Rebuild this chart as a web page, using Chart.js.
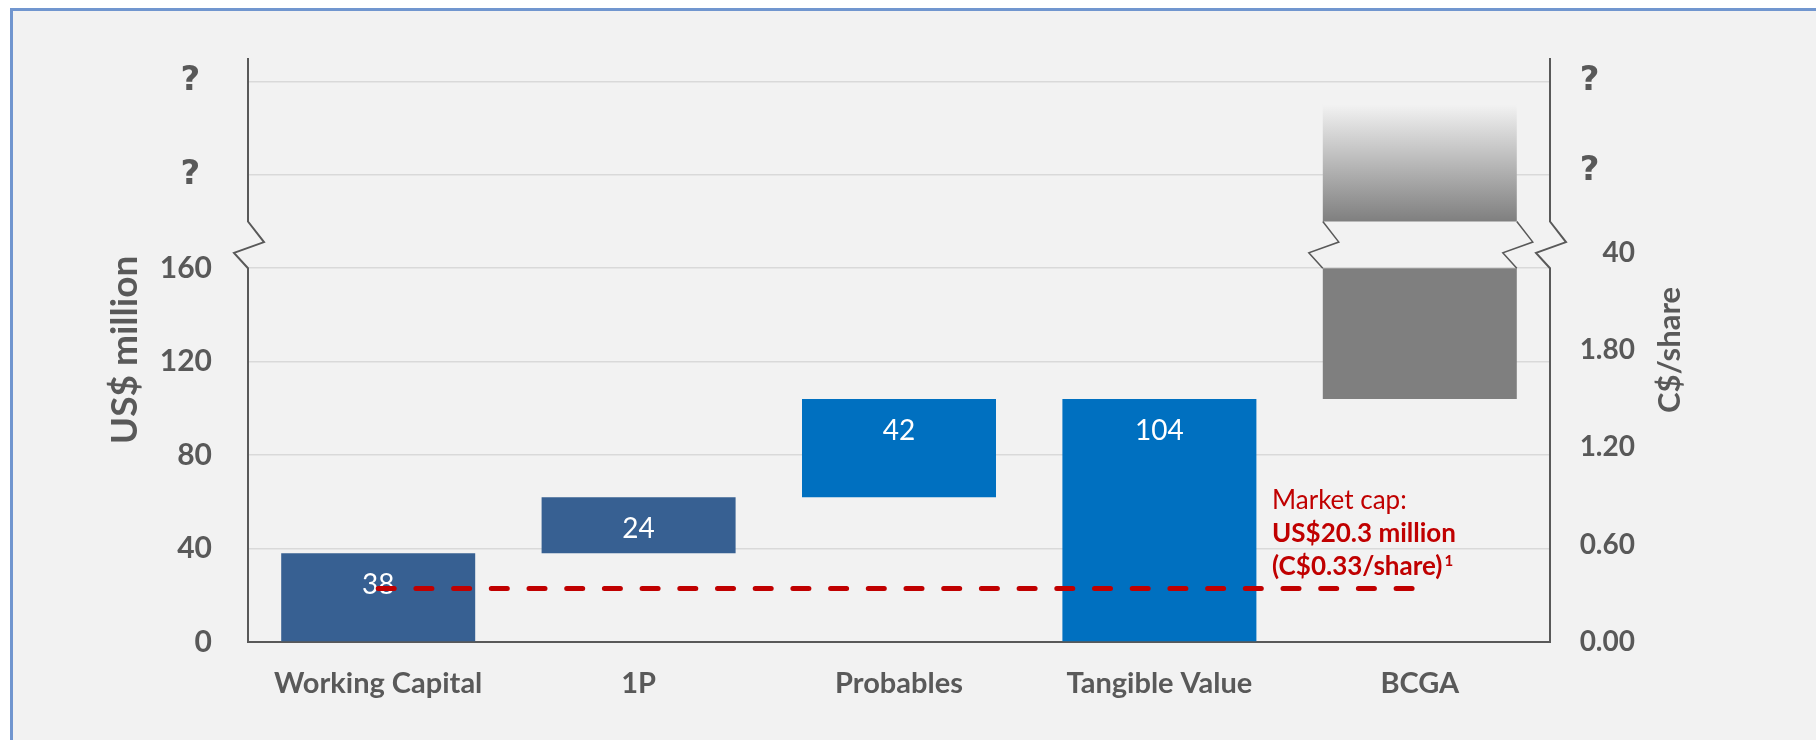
<!DOCTYPE html>
<html>
<head>
<meta charset="utf-8">
<title>Value build-up</title>
<script src="https://cdn.jsdelivr.net/npm/chart.js@4.4.1/dist/chart.umd.min.js"></script>
<style>
    html, body { margin: 0; padding: 0; width: 1816px; height: 740px; overflow: hidden; background: #ffffff; }
    #frame {
        position: absolute; left: 10px; top: 8px; width: 1840px; height: 770px;
        background: #f2f2f2; border-left: 3px solid #7196cf; border-top: 3px solid #7196cf;
    }
    #chart { position: absolute; left: 0; top: 0; }
</style>
</head>
<body>
<div id="frame"></div>
<canvas id="chart" width="1816" height="740"></canvas>
<script>
// === データ ===
const categories = ['Working Capital', '1P', 'Probables', 'Tangible Value', 'BCGA'];
const barLow  = [0, 38, 62, 0, 104];     // US$ million
const barHigh = [38, 62, 104, 104, 160];
const showValue = [true, true, true, true, false];
const bcgaUpper = [180, 230];            // 軸の切れ目より上のBCGA部分
const marketCapShare = [0.33, 0.33, 0.33, 0.33, 0.33]; // C$/share

const leftTickValues  = [0, 40, 80, 120, 160, 200, 240];
const leftTickLabels  = ['0', '40', '80', '120', '160', '? ', '? '];
const rightTickValues = [0, 0.6, 1.2, 1.8, 2.4, 2.9, 3.46];
const rightTickLabels = ['0.00', '0.60', '1.20', '1.80', '40', '?   ', '?   '];

const breakLow = 160;
const breakHigh = 180;

// === スタイル ===
const axisGray = '#595959';
const capRed = '#C00000';
const barColors = ['#376092', '#376092', '#0070C0', '#0070C0', '#7F7F7F'];
const FONT = 'Lato';
const QFONT = { family: 'DejaVu Sans', size: 34, weight: '700' };

const BAR_INDEX = 1;

const fadeFill = (context) => {
    const chart = context.chart;
    if (!chart.chartArea) return '#7F7F7F';
    const y = chart.scales.y;
    const g = chart.ctx.createLinearGradient(0, y.getPixelForValue(bcgaUpper[0]), 0, y.getPixelForValue(bcgaUpper[1]));
    g.addColorStop(0, '#7F7F7F');
    g.addColorStop(1, '#F2F2F2');
    return g;
};

// "?" だけ別フォント
const tickFontFor = (labels, base) => (ctx) =>
    (labels[ctx.index] || '').startsWith('?') ? QFONT : base;

// 切れ目のギザギザ（上端から下端へ）
const zigzag = (ctx, x, yTop, yBottom, withStems, stemTop, stemBottom) => {
    const h = yBottom - yTop;
    ctx.beginPath();
    if (withStems) {
        ctx.moveTo(x, stemTop);
        ctx.lineTo(x, yTop);
    } else {
        ctx.moveTo(x, yTop);
    }
    ctx.lineTo(x + 16, yTop + h * 0.44);
    ctx.lineTo(x - 14, yTop + h * 0.67);
    ctx.lineTo(x, yBottom);
    if (withStems) ctx.lineTo(x, stemBottom);
    ctx.stroke();
};

const decorations = {
    id: 'decorations',
    afterDatasetDraw(chart, args) {
        if (args.index !== BAR_INDEX) return;
        // 棒の値ラベル
        const ctx = chart.ctx;
        const meta = chart.getDatasetMeta(BAR_INDEX);
        const y = chart.scales.y;
        ctx.save();
        ctx.font = `400 28px ${FONT}`;
        ctx.fillStyle = '#ffffff';
        ctx.textAlign = 'center';
        ctx.textBaseline = 'middle';
        meta.data.forEach((bar, i) => {
            if (!showValue[i]) return;
            const value = barHigh[i] - barLow[i];
            ctx.fillText(String(value), bar.x, y.getPixelForValue(barHigh[i]) + 32);
        });
        ctx.restore();
    },
    afterDraw(chart) {
        const ctx = chart.ctx;
        const area = chart.chartArea;
        const y = chart.scales.y;
        const yTop = y.getPixelForValue(breakHigh);
        const yBottom = y.getPixelForValue(breakLow);

        ctx.save();
        ctx.strokeStyle = axisGray;
        ctx.lineWidth = 2;
        ctx.lineJoin = 'miter';
        zigzag(ctx, area.left, yTop, yBottom, true, area.top, area.bottom);
        zigzag(ctx, area.right, yTop, yBottom, true, area.top, area.bottom);

        const bcga = chart.getDatasetMeta(BAR_INDEX).data[4];
        ctx.lineWidth = 1.5;
        zigzag(ctx, bcga.x - bcga.width / 2, yTop, yBottom, false);
        zigzag(ctx, bcga.x + bcga.width / 2, yTop, yBottom, false);

        // 軸タイトル
        ctx.fillStyle = axisGray;
        ctx.textAlign = 'center';
        ctx.textBaseline = 'middle';
        const midY = (area.top + area.bottom) / 2;
        ctx.save();
        ctx.translate(125, midY);
        ctx.rotate(-Math.PI / 2);
        ctx.font = `700 37px ${FONT}`;
        ctx.fillText('US$ million', 0, 0);
        ctx.restore();
        ctx.save();
        ctx.translate(1670, midY);
        ctx.rotate(-Math.PI / 2);
        ctx.font = `700 31px ${FONT}`;
        ctx.fillText('C$/share', 0, 0);
        ctx.restore();

        // 時価総額の注記
        const noteX = 1272;
        ctx.textAlign = 'left';
        ctx.textBaseline = 'alphabetic';
        ctx.fillStyle = capRed;
        ctx.font = `400 26px ${FONT}`;
        ctx.fillText('Market cap:', noteX, 509);
        ctx.font = `700 26px ${FONT}`;
        ctx.fillText('US$20.3 million', noteX, 542);
        const line3 = '(C$0.33/share)';
        ctx.fillText(line3, noteX, 575);
        const w = ctx.measureText(line3).width;
        ctx.font = `700 15px ${FONT}`;
        ctx.fillText('1', noteX + w + 2, 566);
        ctx.restore();
    }
};

const leftFont = { family: FONT, size: 30, weight: '700' };
const rightFont = { family: FONT, size: 28, weight: '700' };

const startChart = () => {
    new Chart(document.getElementById('chart'), {
        data: {
            labels: categories,
            datasets: [
                {
                    type: 'line',
                    data: marketCapShare,
                    yAxisID: 'y2',
                    borderColor: capRed,
                    borderWidth: 5,
                    borderDash: [16, 21.7],
                    borderCapStyle: 'round',
                    pointRadius: 0,
                    order: 0
                },
                {
                    type: 'bar',
                    data: barLow.map((lo, i) => [lo, barHigh[i]]),
                    backgroundColor: barColors,
                    barPercentage: 0.745,
                    categoryPercentage: 1,
                    grouped: false,
                    order: 1
                },
                {
                    type: 'bar',
                    data: [null, null, null, null, bcgaUpper],
                    backgroundColor: fadeFill,
                    barPercentage: 0.745,
                    categoryPercentage: 1,
                    grouped: false,
                    order: 2
                }
            ]
        },
        options: {
            responsive: false,
            animation: false,
            layout: { padding: { top: 58, left: 0, right: 181, bottom: 0 } },
            plugins: { legend: { display: false }, tooltip: { enabled: false } },
            scales: {
                x: {
                    grid: { display: false },
                    border: { color: axisGray, width: 2 },
                    ticks: { color: axisGray, font: { family: FONT, size: 29, weight: '700' }, padding: 16 },
                    afterFit(s) { s.height = 98; }
                },
                y: {
                    min: 0,
                    max: 250,
                    grid: { color: '#d9d9d9', lineWidth: 1.5, drawTicks: false },
                    border: { display: false },
                    ticks: {
                        color: axisGray, font: tickFontFor(leftTickLabels, leftFont), padding: 36, autoSkip: false,
                        callback: (v, i) => leftTickLabels[i]
                    },
                    afterBuildTicks(s) { s.ticks = leftTickValues.map(v => ({ value: v })); },
                    afterFit(s) { s.width = 248; }
                },
                y2: {
                    position: 'right',
                    min: 0,
                    max: 3.6,
                    grid: { display: false, drawTicks: false },
                    border: { display: false },
                    ticks: {
                        color: axisGray, font: tickFontFor(rightTickLabels, rightFont),
                        padding: 29, crossAlign: 'far', autoSkip: false,
                        callback: (v, i) => rightTickLabels[i]
                    },
                    afterBuildTicks(s) { s.ticks = rightTickValues.map(v => ({ value: v })); },
                    afterFit(s) { s.width = 85; }
                }
            }
        },
        plugins: [decorations]
    });
};

document.fonts.load(`700 30px ${FONT}`).then(startChart, startChart);
</script>
</body>
</html>
